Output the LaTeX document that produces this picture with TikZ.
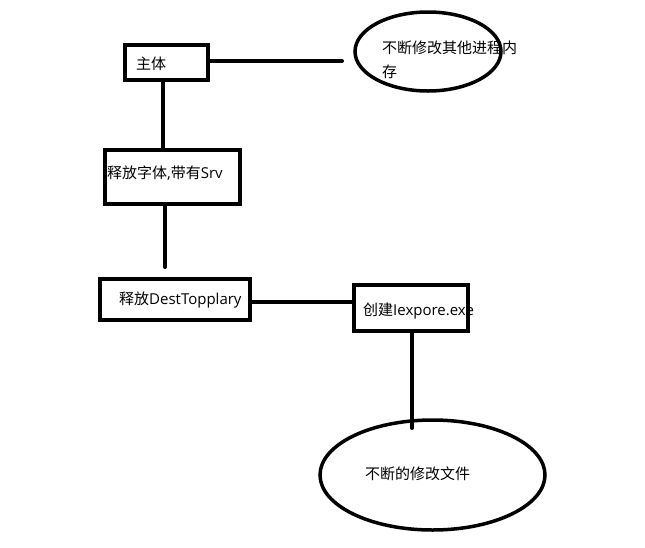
\documentclass[tikz,border=0pt]{standalone}
\usepackage{fontspec}
\setmainfont{Noto Sans CJK SC}
\newfontfamily\lat{Open Sans}
\usetikzlibrary{shapes.geometric}
\begin{document}
\begin{tikzpicture}[x=1pt,y=-1pt,
  box/.style={draw,line width=4pt,inner sep=0pt,minimum width=#1},
  oval/.style={draw,ellipse,line width=3.5pt,inner sep=0pt},
  lbl/.style={anchor=west,inner sep=0pt,font=\fontsize{15}{24}\selectfont},
  conn/.style={line width=4pt,line cap=round}]
\useasboundingbox (0,0) rectangle (645,547);
\node[box=83pt,minimum height=35pt] (zhuti) at (166.5,62.5) {};
\node[box=135pt,minimum height=54pt] (shifang) at (172.5,177) {};
\node[box=150pt,minimum height=41pt] (dest) at (175,299.5) {};
\node[box=114pt,minimum height=46pt] (iexp) at (411,308) {};
\node[oval,minimum width=146pt,minimum height=79pt] (mem) at (428,51.5) {};
\node[oval,minimum width=225pt,minimum height=110pt] (file) at (432.5,475) {};
\node[lbl] (tzhuti) at (136,64) {主体};
\node[lbl] (tshifang) at (107,173) {释放字体{\lat ,}带有{\lat Srv}};
\node[lbl] (tdest) at (119,300) {释放{\lat DestTopplary}};
\node[lbl] (tiexp) at (363,311) {创建{\lat Iexpore.exe}};
\node[lbl,align=left] (tmem) at (382,60) {不断修改其他进程内\\存};
\node[lbl] (tfile) at (365,474) {不断的修改文件};
\coordinate (e1) at (342,61);
\coordinate (v1) at (162.5,0);
\coordinate (e2) at (165,267);
\coordinate (v2) at (412,0);
\coordinate (e3) at (412,428);
\coordinate (h3) at (0,302);
\draw[conn] (e1 -| zhuti.east) -- (e1);
\draw[conn] (v1 |- zhuti.south) -- (v1 |- shifang.north);
\draw[conn] (e2 |- shifang.south) -- (e2);
\draw[conn] (h3 -| dest.east) -- (h3 -| iexp.west);
\draw[conn] (v2 |- iexp.south) -- (e3);
\end{tikzpicture}
\end{document}
